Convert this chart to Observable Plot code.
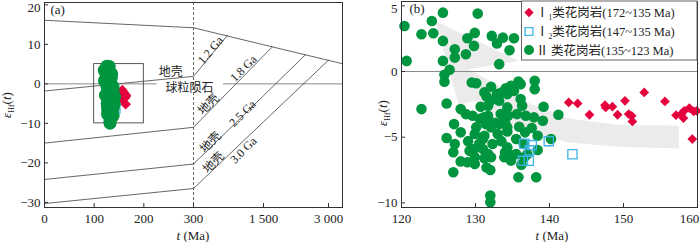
<!DOCTYPE html>
<html><head><meta charset="utf-8">
<script src="https://cdn.jsdelivr.net/npm/d3@7"></script>
<script src="https://cdn.jsdelivr.net/npm/@observablehq/plot@0.6"></script>
<style>
html,body{margin:0;padding:0;background:#fff;}
#wrap{position:relative;width:700px;height:242px;overflow:hidden;background:#fff;}
#a,#b{position:absolute;top:0;}
#a{left:0;} #b{left:350px;}
</style></head>
<body><div id="wrap"><div id="a"></div><div id="b"></div></div>
<script>
// ---------- data ----------
// Group II granites (135~123 Ma): age t (Ma), eHf(t)
const grpII_t = [120.4,120.7,122.7,124.1,124.3,125.6,125.6,125.6,126.5,125.8,125.8,127.2,127.2,128.7,128.9,129.9,129.8,130.3,129.5,130.1,
  132.2,132.9,133.7,135.2,134.6,133.2,138.0,138.0,135.8,132.1,134.1,134.8,136.1,131.2,132.9,134.3,135.2,136.1,133.2,126.1,
  122.7,128.0,128.7,129.6,130.7,131.7,131.1,131.7,133.4,134.3,134.4,135.6,136.8,137.9,139.1,139.2,141.2,127.1,128.0,130.1,
  129.9,131.2,132.1,133.0,134.3,134.3,135.9,136.7,137.6,138.4,126.1,127.2,127.0,129.2,129.8,131.0,131.0,132.3,131.7,132.1,
  134.3,134.0,134.8,135.5,135.5,136.5,138.4,140.2,128.0,128.9,129.9,129.9,132.0,133.9,134.8,136.2,136.6,127.0,135.8,138.2,
  132.0,132.0,132.0,131.4,133.2,130.5,133.5,131.2,130.6,132.6,136.3,131.5,133.5,131.5,129.0,137.0,134.0];
const grpII_e = [3.47,0.81,2.84,3.85,2.91,4.48,2.33,0.81,0.13,-0.25,-0.78,1.70,1.06,1.32,2.53,2.94,1.95,4.41,-0.84,-0.89,
  2.71,2.13,2.58,2.53,1.62,0.56,-0.71,-1.34,-0.76,-1.16,-1.27,-1.09,-0.96,-1.59,-1.72,-1.72,-1.47,-2.10,-2.23,-2.43,
  -2.86,-2.86,-3.24,-3.37,-2.68,-2.61,-3.49,-3.37,-3.24,-2.73,-3.37,-3.24,-3.37,-3.49,-3.75,-2.68,-3.29,-4.00,-4.63,-4.25,
  -4.76,-4.89,-4.25,-4.76,-4.25,-4.56,-4.20,-4.63,-4.30,-4.89,-5.06,-5.52,-6.15,-6.03,-5.90,-5.90,-5.14,-5.52,-6.28,-6.53,
  -5.77,-6.15,-6.33,-6.28,-5.14,-5.52,-5.97,-5.14,-6.84,-6.91,-7.04,-6.53,-7.49,-6.53,-6.78,-7.09,-6.53,-7.67,-8.05,-8.05,
  -9.44,-9.95,-2.23,-4.00,-4.00,-5.50,-5.30,-6.60,-3.60,-3.90,-2.60,-1.90,-1.60,-7.30,-5.30,-6.30,-3.90];
// Group I1 granites (172~135 Ma)
const grpI1_t = [142.6,143.8,145.4,147.5,147.6,148.5,149.2,150.2,150.7,151.1,151.2,152.8,155.6,157.1,157.8,158.1,158.2,158.9,159.5,159.3,159.9];
const grpI1_e = [-2.35,-2.43,-3.29,-2.56,-2.73,-2.68,-3.29,-2.23,-3.24,-3.37,-3.80,-1.59,-2.28,-3.32,-3.24,-3.54,-2.99,-2.78,-3.04,-5.14,-2.99];
// Group I2 granites (147~135 Ma)
const grpI2_t = [136.6,137.6,139.9,143.1,137.3,136.4,137.2];
const grpI2_e = [-5.5,-5.6,-5.3,-6.3,-6.0,-6.8,-6.8];

// Hf evolution reference lines (panel a): t (Ma), eHf
const dmT = [0,300,1500,3320],            dmE = [16.1,14.2,9.9,5.1];
const c12T = [0,300,883],                 c12E = [-1.8,1.9,12.3];
const c18T = [0,300,1500,1708],           c18E = [-15.0,-11.0,7.1,9.4];
const c25T = [0,300,1500,2469],           c25E = [-24.2,-20.3,-3.0,7.4];
const c30T = [0,300,1500,3000],           c30E = [-30.3,-26.5,-9.6,6.0];
const chondriteSegs = [[0,227],[814,3320]];
const boxT = [100,200], boxE = [-10,5];
const breakAge = 300;

const lineLabels = ["地壳","球粒陨石","1.2 Ga","1.8 Ga","地壳","2.5 Ga","地壳","3.0 Ga","地壳"];
const lineLabelT = [254,292,591,1157,557,1140,591,1157,643];
const lineLabelE = [2.9,-1.0,8.5,3.9,-5.2,-7.5,-14.8,-16.8,-19.9];
const lineLabelRot = [0,0,-50,-45,-45,-45,-45,-45,-45];

// trend arrow outline (panel b): t (Ma), eHf
const arrowT = [157.5,149.1,142.4,137.4,132.9,129.1,135.9,124.6,127.7,129.9,132.0,136.5,142.4,149.1,157.5];
const arrowE = [-4.12,-4.05,-3.55,-2.45,-1.01,0.18,0.81,3.85,-2.53,-2.22,-2.98,-4.50,-5.39,-5.72,-5.85];

// axes
const xTicksA = [0,100,200,300,1500,3000];
const yTicksA = [20,10,0,-10,-20,-30];
const xTicksB = [120,130,140,150,160];
const yTicksB = [5,0,-5,-10];
const legendLabels = [["Ⅰ","1","类花岗岩(172~135 Ma)"],["Ⅰ","2","类花岗岩(147~135 Ma)"],["Ⅱ","","\u2009类花岗岩(135~123 Ma)"]];

// ---------- build ----------
const GREEN = "#00953f", RED = "#e5003e", BLUE = "#3fb4e6", LINE = "#555";
const FONT = "'Liberation Serif','Times New Roman','Noto Sans CJK SC',serif";
const toRows = (ts, es) => ts.map((t, i) => ({t, e: es[i]}));
const green = toRows(grpII_t, grpII_e), red = toRows(grpI1_t, grpI1_e), blue = toRows(grpI2_t, grpI2_e);
const evol = [[dmT,dmE],[c12T,c12E],[c18T,c18E],[c25T,c25E],[c30T,c30E]]
  .flatMap(([ts, es], k) => ts.map((t, i) => ({t, e: es[i], id: k})));
const labels = lineLabels.map((s, i) => ({s, t: lineLabelT[i], e: lineLabelE[i], r: lineLabelRot[i]}));
const arrow = toRows(arrowT, arrowE);
const minus = d => d < 0 ? "\u2212" + Math.abs(d) : String(d);
const thou = d => d >= 1000 ? String(d).replace(/(\d)(\d{3})$/, "$1 $2") : String(d);

const W = 350, H = 242;
const plotA = Plot.plot({
  width: W, height: H, marginLeft: 44, marginRight: 8, marginTop: 2, marginBottom: 35,
  style: {fontFamily: FONT, fontSize: "13px", color: "#222", background: "transparent", overflow: "visible"},
  x: {type: "linear", domain: [0,300,1500,3000,3320], range: [44,193,263,328,342]},
  y: {domain: [-31.3, 20.6]},
  marks: [
    Plot.ruleY(chondriteSegs, {x1: d => d[0], x2: d => d[1], y: 0, stroke: "#8a8a8a", strokeWidth: 1}),
    Plot.line(evol, {x: "t", y: "e", z: "id", stroke: LINE, strokeWidth: 0.9}),
    Plot.ruleX([breakAge], {stroke: LINE, strokeWidth: 0.9, strokeDasharray: "3,2"}),
    Plot.rect([0], {x1: () => boxT[0], x2: () => boxT[1], y1: () => boxE[0], y2: () => boxE[1], fill: "none", stroke: "#444", strokeWidth: 0.9}),
    Plot.dot(red, {x: "t", y: "e", symbol: "diamond2", r: 4.8, fill: RED, stroke: "none", dx: 2}),
    Plot.dot(blue, {x: "t", y: "e", symbol: "square", r: 5, fill: "none", stroke: BLUE, strokeWidth: 1.2}),
    Plot.dot(green, {x: "t", y: "e", r: 6.5, fill: GREEN, stroke: "none"}),
    Plot.text(labels, {x: "t", y: "e", text: "s", rotate: "r", fontSize: 12, fill: "#222"}),
    Plot.text(["(a)"], {frameAnchor: "top-left", dx: 6, dy: 2, lineAnchor: "top", textAnchor: "start", fontSize: 13}),
    Plot.tickX(xTicksA, {x: d => d, insetTop: 201, stroke: "#333"}),
    Plot.tickY(yTicksA, {y: d => d, insetRight: 294, stroke: "#333"}),
    Plot.axisX({ticks: xTicksA, tickFormat: thou, tickSize: 0, tickPadding: 6, label: null}),
    Plot.axisY({ticks: yTicksA.slice(1), tickFormat: minus, tickSize: 0, tickPadding: 4, label: null}),
    Plot.axisY({ticks: yTicksA.slice(0, 1), tickFormat: minus, tickSize: 0, tickPadding: 4, label: null, dy: 2.5}),
    Plot.frame({stroke: "#333", strokeWidth: 1})
  ]
});
document.getElementById("a").appendChild(plotA);

const plotB = Plot.plot({
  width: W, height: H, marginLeft: 51, marginRight: 3, marginTop: 1, marginBottom: 35,
  style: {fontFamily: FONT, fontSize: "13px", color: "#222", background: "transparent", overflow: "visible"},
  x: {domain: [120, 160]},
  y: {domain: [-10.35, 5.33]},
  marks: [
    Plot.line(arrow, {x: "t", y: "e", fill: "#ebebeb", stroke: "none", curve: "linear-closed"}),
    Plot.ruleY([0], {stroke: "#8a8a8a", strokeWidth: 1}),
    Plot.dot(green, {x: "t", y: "e", r: 5.3, fill: GREEN, stroke: "none"}),
    Plot.dot(blue, {x: "t", y: "e", symbol: "square", r: 5.2, fill: "none", stroke: BLUE, strokeWidth: 1.3}),
    Plot.dot(red, {x: "t", y: "e", symbol: "diamond2", r: 4.4, fill: RED, stroke: "none"}),
    Plot.text(["(b)"], {frameAnchor: "top-left", dx: 8, dy: 2, lineAnchor: "top", textAnchor: "start", fontSize: 13}),
    Plot.tickX(xTicksB, {x: d => d, insetTop: 202, stroke: "#333"}),
    Plot.tickY(yTicksB, {y: d => d, insetRight: 292, stroke: "#333"}),
    Plot.axisX({ticks: xTicksB.slice(0, -1), tickFormat: d => String(d), tickSize: 0, tickPadding: 6, label: null}),
    Plot.axisX({ticks: xTicksB.slice(-1), tickFormat: d => String(d), tickSize: 0, tickPadding: 6, label: null, dx: -8}),
    Plot.axisY({ticks: yTicksB.slice(1), tickFormat: minus, tickSize: 0, tickPadding: 4, label: null}),
    Plot.axisY({ticks: yTicksB.slice(0, 1), tickFormat: minus, tickSize: 0, tickPadding: 4, label: null, dy: 3}),
    Plot.frame({stroke: "#333", strokeWidth: 1})
  ]
});
document.getElementById("b").appendChild(plotB);

// ---------- axis titles (rich text) ----------
function yTitle(svg, x, y) {
  const t = d3.select(svg).append("text")
    .attr("transform", `translate(${x},${y}) rotate(-90)`)
    .attr("text-anchor", "middle").attr("font-family", FONT).attr("font-size", 13).attr("fill", "#222");
  t.append("tspan").attr("font-style", "italic").text("ε");
  t.append("tspan").attr("font-size", 8).attr("dy", 3).text("Hf");
  t.append("tspan").attr("dy", -3).text("(");
  t.append("tspan").attr("font-style", "italic").text("t");
  t.append("tspan").text(")");
}
function xTitle(svg, x, y) {
  const t = d3.select(svg).append("text").attr("x", x).attr("y", y)
    .attr("text-anchor", "middle").attr("font-family", FONT).attr("font-size", 13).attr("fill", "#222");
  t.append("tspan").attr("font-style", "italic").text("t");
  t.append("tspan").text(" (Ma)");
}
yTitle(plotA, 11, 105);
xTitle(plotA, 193, 239.5);
yTitle(plotB, 37, 113);
xTitle(plotB, 202, 239.5);

// ---------- legend (panel b) ----------
const lg = d3.select(plotB).append("g").attr("font-family", FONT).attr("font-size", 12.5)
  .attr("fill", "#222").attr("text-anchor", "start");
lg.append("rect").attr("x", 171.5).attr("y", 1).attr("width", 175.5).attr("height", 59)
  .attr("fill", "#fff").attr("stroke", "#555").attr("stroke-width", 0.9);
const rowsY = [12.5, 31.5, 50];
const syms = [
  {type: d3.symbolDiamond2, size: Math.PI * 4.2 * 4.2, fill: RED, stroke: "none"},
  {type: d3.symbolSquare, size: Math.PI * 4.4 * 4.4, fill: "none", stroke: BLUE},
  {type: d3.symbolCircle, size: Math.PI * 5 * 5, fill: GREEN, stroke: "none"}
];
syms.forEach((s, i) => {
  lg.append("path").attr("d", d3.symbol(s.type, s.size)()).attr("transform", `translate(179,${rowsY[i]})`)
    .attr("fill", s.fill).attr("stroke", s.stroke).attr("stroke-width", 1.3);
  const [roman, sub, rest] = legendLabels[i];
  const t = lg.append("text").attr("x", 186).attr("y", rowsY[i] + 4.5).attr("text-anchor", "start");
  t.append("tspan").text(roman);
  if (sub) {
    t.append("tspan").attr("font-size", 7.5).attr("dy", 3).text(sub);
    t.append("tspan").attr("dy", -3).text(rest);
  } else {
    t.append("tspan").text(rest);
  }
});
</script>
</body></html>
